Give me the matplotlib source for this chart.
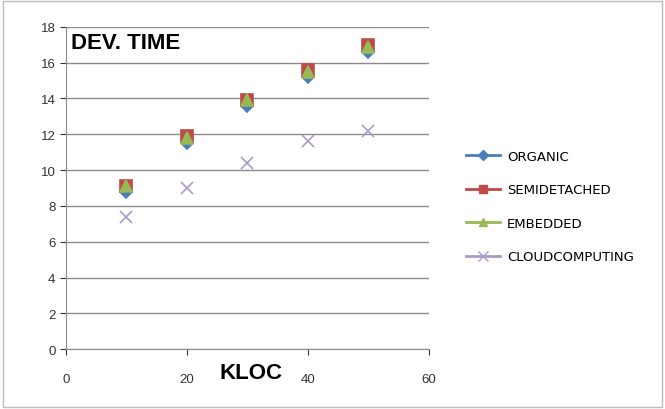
import matplotlib.pyplot as plt
from matplotlib.lines import Line2D

plt.rcParams['font.family'] = ['Liberation Sans', 'DejaVu Sans']

kloc = [10, 20, 30, 40, 50]
organic = [8.8, 11.5, 13.6, 15.2, 16.6]
semidetached = [9.1, 11.9, 13.9, 15.6, 17.0]
embedded = [9.1, 11.8, 13.9, 15.5, 16.9]
cloud = [7.4, 9.0, 10.4, 11.6, 12.2]

series = [
    ('ORGANIC', organic, '#4A7EBB', 'D', 6),
    ('SEMIDETACHED', semidetached, '#BE4B48', 's', 8),
    ('EMBEDDED', embedded, '#98B954', '^', 8),
    ('CLOUDCOMPUTING', cloud, '#A99BC9', 'x', 9),
]

fig = plt.figure(figsize=(6.65, 4.10), dpi=100)
ax = fig.add_axes([0.099, 0.146, 0.546, 0.786])

handles = []
for name, vals, color, marker, size in series:
    ax.plot(kloc, vals, linestyle='none', marker=marker, color=color,
            markersize=size, markeredgewidth=1.2)
    handles.append(Line2D([0], [0], color=color, marker=marker, lw=2,
                          markersize=size * 0.8, label=name))

ax.set_xlim(0, 60)
ax.set_ylim(0, 18)
ax.set_xticks(range(0, 61, 20))
ax.set_yticks(range(0, 19, 2))
ax.yaxis.grid(True, color='#8c8c8c', lw=1)
ax.set_axisbelow(True)
for s in ['top', 'right']:
    ax.spines[s].set_visible(False)
for s in ['left', 'bottom']:
    ax.spines[s].set_color('#8c8c8c')
ax.tick_params(colors='#333333', labelsize=9.5, length=4)
ax.tick_params(axis='x', pad=13)

ax.text(0.015, 0.985, 'DEV. TIME', transform=ax.transAxes, fontsize=16,
        fontweight='bold', va='top', ha='left')
fig.text(0.377, 0.075, 'KLOC', fontsize=16, fontweight='bold', ha='center')

fig.legend(handles=handles, loc='center left', bbox_to_anchor=(0.683, 0.494),
           frameon=False, prop={'family': 'DejaVu Sans', 'size': 9.5},
           handlelength=2.6, handletextpad=0.5, labelspacing=1.55)

border = plt.Rectangle((0.005, 0.005), 0.99, 0.99, transform=fig.transFigure,
                       fill=False, edgecolor='#bbbbbb', lw=1)
fig.patches.append(border)

fig.savefig('out.png', dpi=100)
